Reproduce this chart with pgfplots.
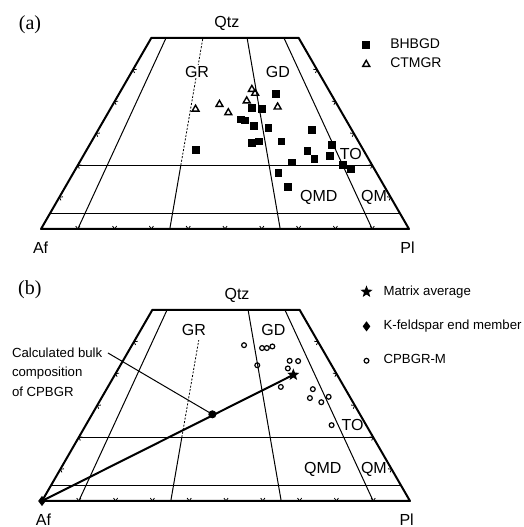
\documentclass[border=0pt]{standalone}
\usepackage{fontspec}
\setmainfont{Liberation Sans}
\newfontfamily\seriffont{Liberation Serif}
\usepackage{pgfplots}
\pgfplotsset{compat=1.18}

\newcommand\lab{\fontsize{8}{9}\selectfont}
\newcommand\lega{\fontsize{7}{8}\selectfont}
\newcommand\legb{\fontsize{6.6}{7.6}\selectfont}
\newcommand\ann{\fontsize{6.6}{9.7}\selectfont}

% filled five-pointed star
\pgfdeclareplotmark{fstar}{%
  \pgfpathmoveto{\pgfpointpolar{90}{\pgfplotmarksize}}%
  \pgfpathlineto{\pgfpointpolar{126}{0.42\pgfplotmarksize}}%
  \pgfpathlineto{\pgfpointpolar{162}{\pgfplotmarksize}}%
  \pgfpathlineto{\pgfpointpolar{198}{0.42\pgfplotmarksize}}%
  \pgfpathlineto{\pgfpointpolar{234}{\pgfplotmarksize}}%
  \pgfpathlineto{\pgfpointpolar{270}{0.42\pgfplotmarksize}}%
  \pgfpathlineto{\pgfpointpolar{306}{\pgfplotmarksize}}%
  \pgfpathlineto{\pgfpointpolar{342}{0.42\pgfplotmarksize}}%
  \pgfpathlineto{\pgfpointpolar{18}{\pgfplotmarksize}}%
  \pgfpathlineto{\pgfpointpolar{54}{0.42\pgfplotmarksize}}%
  \pgfpathclose\pgfusepathqfillstroke}

% small chevron ticks on the three edges
\newcommand\tb[1]{\draw[line width=0.4pt] ([shift={(55:1.8pt)}]axis cs:#1,0) -- (axis cs:#1,0) -- ([shift={(125:1.8pt)}]axis cs:#1,0);}
\newcommand\tl[2]{\draw[line width=0.4pt] ([shift={(5:1.8pt)}]axis cs:#1,#2) -- (axis cs:#1,#2) -- ([shift={(-65:1.8pt)}]axis cs:#1,#2);}
\newcommand\tr[2]{\draw[line width=0.4pt] ([shift={(175:1.8pt)}]axis cs:#1,#2) -- (axis cs:#1,#2) -- ([shift={(245:1.8pt)}]axis cs:#1,#2);}

% QAP field boundaries, x = P + Q/2, y = Q
\newcommand\qapframe[1]{%
  \draw[line width=1pt, line join=round] (axis cs:0,0) -- (axis cs:100,0) -- (axis cs:70,60) -- (axis cs:30,60) -- cycle;
  \draw[line width=0.5pt] (axis cs:10,0) -- (axis cs:34,60);
  \draw[line width=0.5pt] (axis cs:35,0) -- (axis cs:38,20);
  \draw[line width=0.4pt, dash pattern=on 1pt off 0.8pt] (axis cs:38,20) -- (axis cs:#1);
  \draw[line width=0.5pt] (axis cs:65,0) -- (axis cs:56,60);
  \draw[line width=0.5pt] (axis cs:90,0) -- (axis cs:66,60);
  \draw[line width=0.5pt] (axis cs:10,20) -- (axis cs:90,20);
  \draw[line width=0.5pt] (axis cs:2.5,5) -- (axis cs:97.5,5);
  \tb{10}\tb{20}\tb{30}\tb{40}\tb{50}\tb{60}\tb{70}\tb{80}\tb{90}
  \tl{5}{10}\tl{10}{20}\tl{15}{30}\tl{20}{40}\tl{25}{50}
  \tr{95}{10}\tr{90}{20}\tr{85}{30}\tr{80}{40}\tr{75}{50}
}

\pgfplotsset{
  qap/.style={
    scale only axis, width=184pt, height=95.6pt,
    xmin=0, xmax=100, ymin=0, ymax=60,
    hide axis, clip=false, anchor=south west,
    legend cell align=left,
    legend style={draw=none, fill=none, anchor=north west},
  },
  lm/.style={legend image code/.code={\draw[##1] plot coordinates {(0cm,0cm)}; \path (0cm,0cm) (#1,0cm);}},
}

\begin{document}
\begin{tikzpicture}
\useasboundingbox (0,0) rectangle (262pt,263.5pt);

% ---------------- (a)
\begin{axis}[qap, at={(20.5pt,149pt)},
  legend style={at={(0.857,1.041)}, row sep=-0.6pt, font=\lega}]
\qapframe{44,60}
\addplot[only marks, mark=square*, mark size=1.7pt, black, lm=0.34cm] coordinates {
  (42.0,24.8) (63.9,42.3) (57.3,38.1) (60.0,37.6) (54.3,34.4) (55.4,34.1)
  (57.9,32.3) (61.8,31.8) (73.6,31.0) (57.4,27.1) (59.2,27.5) (65.3,27.5)
  (79.1,26.3) (72.4,24.6) (74.3,22.1) (78.6,22.9) (68.1,20.9) (82.1,20.1)
  (84.2,18.8) (64.5,17.6) (67.2,13.2)
};
\addlegendentry{BHBGD}
\addplot[only marks, mark=triangle, mark size=2pt, line width=0.7pt, black, lm=0.34cm] coordinates {
  (42.0,37.6) (48.5,39.1) (50.9,36.5) (55.9,40.2) (57.3,43.8) (58.2,42.6) (64.3,38.3)
};
\addlegendentry{CTMGR}
\node[font=\seriffont\fontsize{10}{12}\selectfont] at (axis cs:-3,64) {(a)};
\node[font=\lab] at (axis cs:50.5,64.6) {Qtz};
\node[font=\lab, fill=white, inner sep=0.6pt] at (axis cs:42.4,49.4) {GR};
\node[font=\lab] at (axis cs:64.4,49.4) {GD};
\node[font=\lab] at (axis cs:84.2,23.5) {TO};
\node[font=\lab] at (axis cs:75.5,9.9) {QMD};
\node[font=\lab] at (axis cs:90.5,9.9) {QM};
\node[font=\lab] at (axis cs:-0.1,-6.0) {Af};
\node[font=\lab] at (axis cs:99.6,-6.0) {Pl};
\end{axis}

% ---------------- (b)
\begin{axis}[qap, at={(21pt,13pt)},
  legend style={at={(0.851,1.171)}, row sep=7pt, font=\legb}]
\qapframe{42.6,50.5}
\addplot[forget plot, line width=1pt, black] coordinates {(0,0) (68.3,39.6)};
\addplot[only marks, mark=fstar, mark size=2.6pt, black, lm=0.22cm] coordinates {(68.3,39.6)};
\addlegendentry{Matrix average}
\addplot[only marks, mark=diamond*, mark size=2.2pt, black, lm=0.22cm] coordinates {(0,0)};
\addlegendentry{K-feldspar end member}
\addplot[only marks, mark=o, mark size=1.2pt, line width=0.6pt, black, lm=0.22cm] coordinates {
  (54.9,48.9) (59.8,48.0) (61.1,48.0) (62.6,48.5) (58.5,42.6) (67.3,44.0)
  (69.6,43.9) (66.8,41.6) (64.9,35.8) (73.6,35.1) (72.8,32.3) (75.9,31.0)
  (77.9,32.7) (78.7,23.8)
};
\addlegendentry{CPBGR-M}
\addplot[forget plot, only marks, mark=*, mark size=1.8pt, black] coordinates {(46.3,27.2)};
\coordinate (bulk) at (axis cs:46.3,27.2);
\node[font=\seriffont\fontsize{10}{12}\selectfont] at (axis cs:-3.3,66.2) {(b)};
\node[font=\lab] at (axis cs:53.0,64.4) {Qtz};
\node[font=\lab] at (axis cs:41.3,53.7) {GR};
\node[font=\lab] at (axis cs:62.9,53.7) {GD};
\node[font=\lab] at (axis cs:84.4,23.7) {TO};
\node[font=\lab] at (axis cs:76.3,10.0) {QMD};
\node[font=\lab] at (axis cs:90.2,10.0) {QM};
\node[font=\lab] at (axis cs:0.4,-6.0) {Af};
\node[font=\lab] at (axis cs:99.1,-6.0) {Pl};
\end{axis}

% annotation of the bulk composition point
\draw[line width=0.5pt] (54pt,87pt) -- (bulk);
\node[anchor=north west, align=left, font=\ann, inner sep=0pt] at (5.8pt,89.8pt)
  {Calculated bulk\\composition\\of CPBGR};
\end{tikzpicture}
\end{document}
